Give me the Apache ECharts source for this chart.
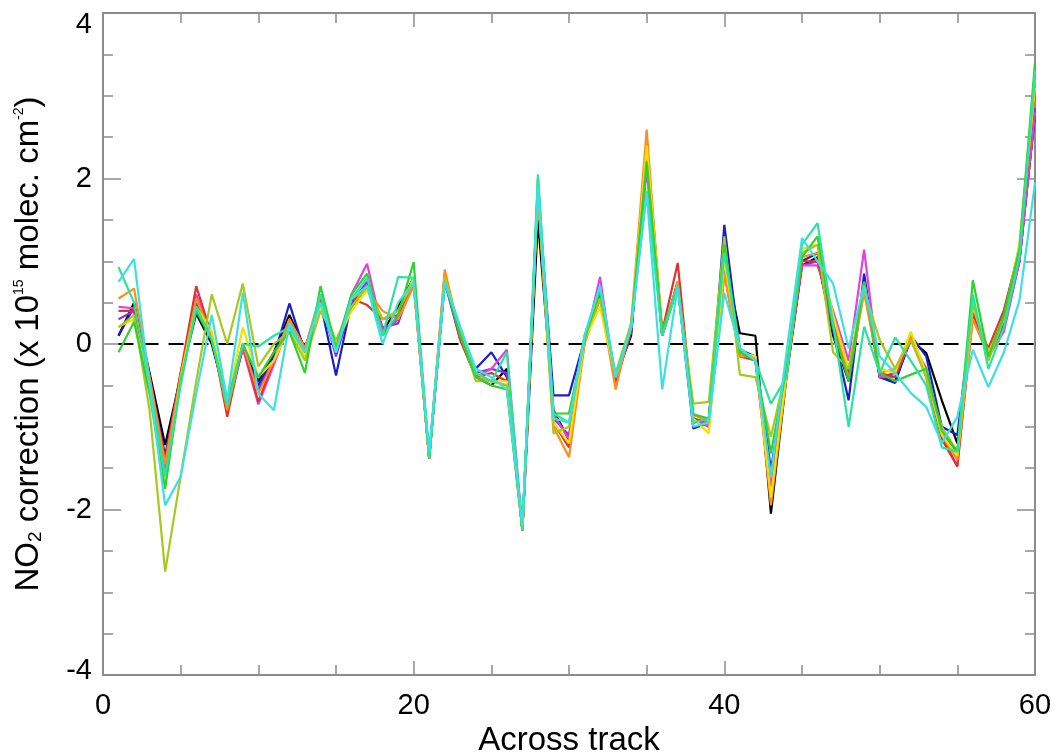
<!DOCTYPE html>
<html>
<head>
<meta charset="utf-8">
<title>NO2 correction across track</title>
<script src="https://cdn.jsdelivr.net/npm/echarts@6/dist/echarts.min.js"></script>
<style>
    html, body {
        margin: 0;
        padding: 0;
        background: #ffffff;
    }

    #chart {
        width: 1057px;
        height: 755px;
    }
</style>
</head>
<body>
<div id="chart"></div>
<script>
// across-track pixel index
const acrossTrack = [1, 2, 3, 4, 5, 6, 7, 8, 9, 10, 11, 12, 13, 14, 15, 16, 17, 18, 19, 20,
    21, 22, 23, 24, 25, 26, 27, 28, 29, 30, 31, 32, 33, 34, 35, 36, 37, 38, 39, 40,
    41, 42, 43, 44, 45, 46, 47, 48, 49, 50, 51, 52, 53, 54, 55, 56, 57, 58, 59, 60]

// NO2 correction (x 1e15 molec. cm-2), one curve per colour
const lineBlack = [0.1, 0.5, -0.35, -1.22, -0.4, 0.37, 0.0, -0.72, -0.05, -0.45, -0.1, 0.35, -0.05, 0.5, -0.1, 0.45, 0.7, 0.15, 0.45, 0.8,
    -1.38, 0.78, 0.1, -0.4, -0.5, -0.3, -2.25, 1.5, -0.8, -1.16, 0.05, 0.55, -0.4, 0.1, 2.35, 0.1, 0.75, -0.95, -0.9, 1.05,
    0.13, 0.1, -2.05, -0.4, 0.95, 1.05, 0.1, -0.45, 0.75, -0.4, -0.45, 0.05, -0.11, -0.68, -1.2, 0.4, -0.1, 0.3, 1.0, 2.8]
const lineBlue = [0.1, 0.45, -0.4, -1.35, -0.35, 0.45, 0.05, -0.75, -0.05, -0.5, -0.15, 0.49, -0.1, 0.5, -0.38, 0.5, 0.7, 0.15, 0.3, 0.75,
    -1.38, 0.75, 0.05, -0.3, -0.1, -0.4, -2.25, 1.85, -0.62, -0.62, 0.05, 0.6, -0.45, 0.15, 2.2, 0.1, 0.7, -1.02, -0.95, 1.44,
    -0.07, -0.15, -1.52, -0.35, 1.0, 1.1, 0.15, -0.68, 0.85, -0.4, -0.47, 0.1, -0.15, -1.0, -1.1, 0.45, -0.1, 0.25, 1.1, 2.75]
const linePurple = [0.3, 0.4, -0.4, -1.4, -0.4, 0.5, 0.1, -0.75, -0.05, -0.55, -0.2, 0.3, -0.1, 0.55, -0.15, 0.5, 0.75, 0.2, 0.25, 0.8,
    -1.38, 0.8, 0.1, -0.35, -0.3, -0.35, -2.25, 1.9, -0.9, -1.1, 0.05, 0.65, -0.45, 0.15, 2.25, 0.12, 0.7, -0.9, -1.0, 1.1,
    -0.1, -0.15, -1.8, -0.35, 0.95, 1.0, 0.2, -0.35, 0.7, -0.4, -0.35, 0.05, -0.3, -1.1, -1.3, 0.4, -0.15, 0.2, 1.0, 2.85]
const lineMagenta = [0.45, 0.43, -0.45, -1.52, -0.4, 0.6, 0.1, -0.8, -0.05, -0.73, -0.25, 0.25, -0.05, 0.55, -0.1, 0.6, 0.97, 0.15, 0.3, 0.75,
    -1.38, 0.8, 0.05, -0.4, -0.3, -0.07, -2.25, 1.9, -0.85, -1.15, 0.0, 0.81, -0.5, 0.2, 2.1, 0.1, 0.75, -0.9, -1.0, 0.95,
    -0.1, -0.2, -1.75, -0.3, 0.95, 0.95, 0.4, -0.2, 1.14, -0.4, -0.4, 0.05, -0.35, -1.1, -1.48, 0.35, -0.15, 0.15, 1.0, 2.8]
const lineRed = [0.4, 0.4, -0.45, -1.4, -0.35, 0.7, 0.1, -0.88, 0.0, -0.7, -0.2, 0.3, -0.1, 0.55, -0.05, 0.55, 0.47, 0.3, 0.35, 0.75,
    -1.38, 0.85, 0.05, -0.4, -0.35, -0.45, -2.25, 1.85, -0.95, -1.25, 0.05, 0.6, -0.45, 0.15, 2.45, 0.15, 0.98, -0.9, -0.95, 0.85,
    -0.15, -0.2, -1.85, -0.35, 1.0, 1.0, 0.3, -0.4, 0.7, -0.35, -0.4, 0.1, -0.4, -1.15, -1.48, 0.35, -0.05, 0.41, 1.15, 3.05]
const lineOrange = [0.55, 0.67, -0.4, -1.45, -0.4, 0.55, 0.1, -0.8, 0.0, -0.6, -0.2, 0.3, -0.05, 0.6, 0.0, 0.55, 0.65, 0.4, 0.3, 0.7,
    -1.38, 0.9, 0.1, -0.4, -0.45, -0.5, -2.25, 1.85, -1.0, -1.37, 0.0, 0.55, -0.55, 0.25, 2.59, 0.1, 0.75, -0.85, -0.95, 0.85,
    -0.15, -0.15, -1.95, -0.4, 1.05, 1.1, 0.35, -0.43, 0.62, -0.35, -0.3, 0.1, -0.4, -1.1, -1.4, 0.3, -0.15, 0.3, 1.2, 3.2]
const lineYellow = [0.21, 0.3, -0.5, -1.7, -0.4, 0.45, 0.15, -0.7, 0.2, -0.4, -0.2, 0.2, -0.15, 0.45, 0.0, 0.4, 0.65, 0.3, 0.4, 0.8,
    -1.38, 0.8, 0.15, -0.35, -0.45, -0.45, -2.25, 1.9, -0.95, -1.2, 0.05, 0.45, -0.4, 0.2, 2.4, 0.15, 0.7, -0.9, -1.08, 1.0,
    -0.1, -0.15, -1.85, -0.35, 1.15, 1.2, 0.35, -0.3, 0.75, -0.3, -0.35, 0.15, -0.35, -1.1, -1.35, 0.45, -0.1, 0.3, 1.2, 3.1]
const lineOlive = [0.2, 0.35, -0.8, -2.75, -1.6, -0.45, 0.6, 0.0, 0.73, -0.27, 0.0, 0.15, -0.2, 0.4, 0.05, 0.45, 0.7, 0.3, 0.4, 0.75,
    -1.38, 0.8, 0.15, -0.45, -0.45, -0.5, -2.25, 1.8, -1.08, -1.0, 0.1, 0.55, -0.35, 0.25, 2.2, 0.1, 0.7, -0.72, -0.7, 1.3,
    -0.37, -0.4, -1.12, -0.3, 1.1, 1.2, -0.1, -0.3, 0.65, 0.05, -0.3, 0.05, -0.4, -1.0, -1.3, 0.5, -0.2, 0.3, 1.1, 3.2]
const lineGreen = [-0.1, 0.27, -0.6, -1.75, -0.45, 0.4, 0.05, -0.7, 0.0, -0.4, -0.1, 0.15, -0.35, 0.7, -0.05, 0.6, 0.85, 0.1, 0.35, 0.99,
    -1.38, 0.75, 0.1, -0.4, -0.5, -0.55, -2.25, 2.0, -0.84, -0.84, 0.05, 0.65, -0.4, 0.2, 2.2, 0.15, 0.7, -0.85, -0.9, 1.2,
    -0.1, -0.2, -1.32, -0.3, 1.05, 1.3, 0.2, -0.45, 0.75, -0.35, -0.45, -0.37, -0.3, -1.05, -1.3, 0.77, -0.15, 0.35, 1.15, 3.4]
const lineTeal = [0.93, 0.5, -0.5, -1.6, -0.5, 0.45, 0.05, -0.75, 0.0, -0.03, 0.1, 0.2, -0.1, 0.6, -0.1, 0.55, 0.8, 0.1, 0.81, 0.8,
    -1.38, 0.75, 0.2, -0.35, -0.45, -0.1, -2.25, 2.05, -0.84, -0.95, 0.1, 0.7, -0.4, 0.2, 1.85, 0.1, 0.7, -0.95, -0.9, 1.1,
    -0.05, -0.2, -0.72, -0.4, 1.2, 1.46, 0.25, -1.0, 0.21, -0.35, 0.08, -0.2, -0.5, -1.25, -1.3, 0.6, -0.3, 0.2, 1.05, 3.3]
const lineCyan = [0.75, 1.03, -0.5, -1.95, -1.6, -0.6, 0.35, -0.68, 0.62, -0.6, -0.8, 0.25, -0.1, 0.5, -0.1, 0.55, 0.7, 0.0, 0.5, 0.75,
    -1.3, 0.75, 0.2, -0.3, -0.4, -0.55, -2.2, 1.9, -0.9, -0.95, 0.1, 0.7, -0.4, 0.2, 1.82, -0.55, 0.7, -1.0, -0.95, 0.62,
    -0.05, -0.2, -1.6, -0.1, 1.28, 1.0, 0.73, -0.05, 0.7, -0.15, -0.35, -0.59, -0.76, -1.2, -0.88, -0.07, -0.52, -0.1, 0.53, 1.95]

const lineNames = ['black', 'blue', 'purple', 'magenta', 'red', 'orange', 'yellow', 'olive', 'green', 'teal', 'cyan']
const lineColors = ['#000000', '#1c1cc8', '#8a30d8', '#e040e0', '#e03228', '#ff8c1e', '#f2e200', '#a8c81e', '#30d030', '#28e4a0', '#3ce0e4']
const lineValues = [lineBlack, lineBlue, linePurple, lineMagenta, lineRed, lineOrange, lineYellow, lineOlive, lineGreen, lineTeal, lineCyan]

const xTicks = [0, 20, 40, 60]
const yTicks = [-4, -2, 0, 2, 4]
const zeroLine = [[1, 0], [60, 0]]

const axisGrey = '#8c8c8c'
const fontName = '"Liberation Sans", Arial, Helvetica, sans-serif'

function frameAxis(tickLen, extra) {
    return Object.assign({
        type: 'value',
        axisLine: {show: true, onZero: false, lineStyle: {color: axisGrey, width: 2}},
        axisTick: {show: true, inside: true, length: tickLen, lineStyle: {color: axisGrey, width: 1.5}},
        minorTick: {show: true, splitNumber: 4, length: 10, lineStyle: {color: axisGrey, width: 1.5}},
        splitLine: {show: false},
        minorSplitLine: {show: false}
    }, extra)
}

let chart = echarts.init(document.getElementById('chart'), null, {renderer: 'canvas'})

let series = [{
    type: 'line',
    data: zeroLine,
    showSymbol: false,
    silent: true,
    lineStyle: {color: '#000000', width: 2, type: [15, 10]},
    z: 1
}]
for (let i = 0; i < lineValues.length; i++) {
    series.push({
        name: lineNames[i],
        type: 'line',
        data: acrossTrack.map((x, k) => [x, lineValues[i][k]]),
        showSymbol: false,
        lineStyle: {color: lineColors[i], width: 2.2},
        z: 2
    })
}

let option = {
    animation: false,
    backgroundColor: '#ffffff',
    grid: {left: 103, right: 22, top: 13, bottom: 80, containLabel: false, outerBoundsMode: 'none'},
    xAxis: [
        frameAxis(14, {
            min: xTicks[0],
            max: xTicks[xTicks.length - 1],
            interval: 20,
            position: 'bottom',
            name: 'Across track',
            nameLocation: 'middle',
            nameGap: 49,
            nameTextStyle: {fontFamily: fontName, fontSize: 33, color: '#000'},
            axisLabel: {margin: 16, fontFamily: fontName, fontSize: 29, color: '#000'}
        }),
        frameAxis(14, {
            min: xTicks[0],
            max: xTicks[xTicks.length - 1],
            interval: 20,
            position: 'top',
            axisLabel: {show: false}
        })
    ],
    yAxis: [
        frameAxis(18, {
            min: yTicks[0],
            max: yTicks[yTicks.length - 1],
            interval: 2,
            position: 'left',
            name: '{n|NO}{sub|2}{n| correction (x 10}{sup|15}{n| molec. cm}{sup|-2}{n|)}',
            nameLocation: 'middle',
            nameRotate: 90,
            nameGap: 58,
            nameTextStyle: {
                fontFamily: fontName,
                fontSize: 33,
                color: '#000',
                rich: {
                    n: {fontFamily: fontName, fontSize: 33, color: '#000'},
                    sub: {fontFamily: fontName, fontSize: 19, color: '#000', verticalAlign: 'bottom'},
                    sup: {fontFamily: fontName, fontSize: 14, color: '#000', verticalAlign: 'top'}
                }
            },
            axisLabel: {
                margin: 11,
                fontFamily: fontName,
                fontSize: 29,
                color: '#000',
                formatter: function (v) {
                    if (v === yTicks[yTicks.length - 1]) return '{hi|' + v + '}'
                    if (v === yTicks[0]) return '{lo|' + v + '}'
                    return String(v)
                },
                rich: {
                    hi: {fontFamily: fontName, fontSize: 29, color: '#000', padding: [24, 0, 0, 0]},
                    lo: {fontFamily: fontName, fontSize: 29, color: '#000', padding: [0, 0, 8, 0]}
                }
            }
        }),
        frameAxis(18, {
            min: yTicks[0],
            max: yTicks[yTicks.length - 1],
            interval: 2,
            position: 'right',
            axisLabel: {show: false}
        })
    ],
    series: series
}
chart.setOption(option)
</script>
</body>
</html>
